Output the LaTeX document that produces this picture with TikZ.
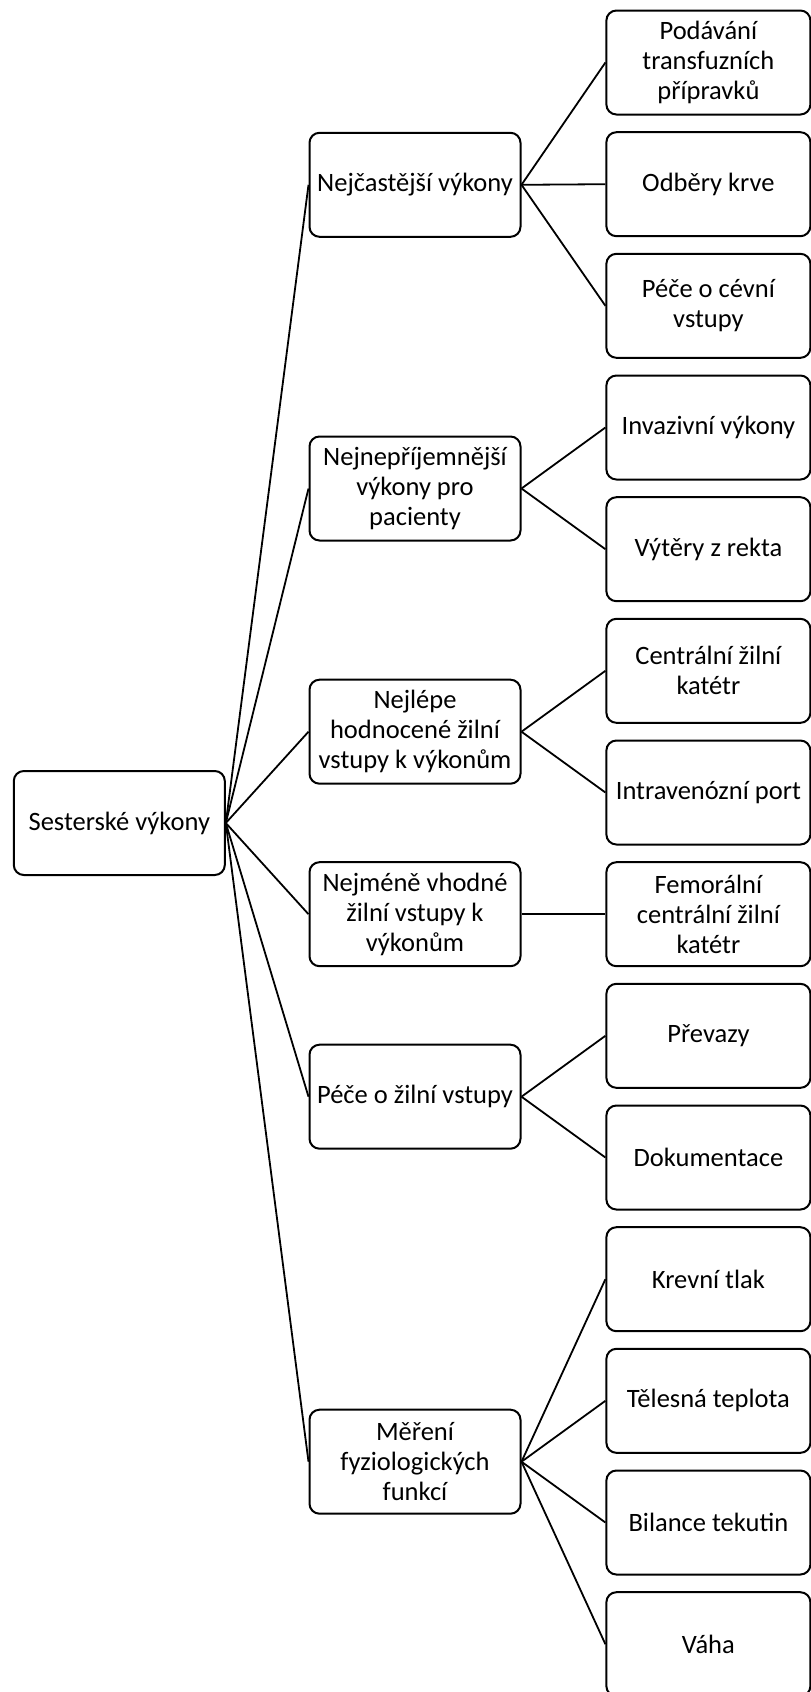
\documentclass[tikz,border=0pt]{standalone}
\usepackage{fontspec}
\setmainfont{Carlito}
\begin{document}
\begin{tikzpicture}[x=1pt,y=-1pt,
    box/.style={draw, line width=2pt, rounded corners=10pt, align=center,
      inner sep=0pt, minimum height=104pt, font=\fontsize{26.5}{30}\selectfont},
    mid/.style={box, minimum width=211pt},
    leaf/.style={box, minimum width=204pt}]
  \useasboundingbox (0,0) rectangle (811,1692);
  \draw
    (119.3,823) node[mid] (0){Sesterské výkony}
    (415,184.8) node[mid] (1){Nejčastější výkony}
    (415,488.5) node[mid] (2){Nejnepříjemnější\\výkony pro\\pacienty}
    (415,731.7) node[mid] (3){Nejlépe\\hodnocené žilní\\vstupy k výkonům}
    (415,914.2) node[mid] (4){Nejméně vhodné\\žilní vstupy k\\výkonům}
    (415,1096.7) node[mid] (5){Péče o žilní vstupy}
    (415,1461.7) node[mid] (6){Měření\\fyziologických\\funkcí};
  \draw
    (708.4,62.5) node[leaf] (1a){Podávání\\transfuzních\\přípravků}
    (708.4,184.2) node[leaf] (1b){Odběry krve}
    (708.4,305.8) node[leaf] (1c){Péče o cévní\\vstupy}
    (708.4,427.5) node[leaf] (2a){Invazivní výkony}
    (708.4,549.2) node[leaf] (2b){Výtěry z rekta}
    (708.4,670.8) node[leaf] (3a){Centrální žilní\\katétr}
    (708.4,792.5) node[leaf] (3b){Intravenózní port}
    (708.4,914.2) node[leaf] (4a){Femorální\\centrální žilní\\katétr}
    (708.4,1035.8) node[leaf] (5a){Převazy}
    (708.4,1157.5) node[leaf] (5b){Dokumentace}
    (708.4,1279.2) node[leaf] (6a){Krevní tlak}
    (708.4,1400.8) node[leaf] (6b){Tělesná teplota}
    (708.4,1522.5) node[leaf] (6c){Bilance tekutin}
    (708.4,1644.2) node[leaf] (6d){Váha};
  \begin{scope}[line width=1.8pt]
    \draw (0.east) to (1.west);
    \draw (0.east) to (2.west);
    \draw (0.east) to (3.west);
    \draw (0.east) to (4.west);
    \draw (0.east) to (5.west);
    \draw (0.east) to (6.west);
    \draw (1.east) to (1a.west);
    \draw (1.east) to (1b.west);
    \draw (1.east) to (1c.west);
    \draw (2.east) to (2a.west);
    \draw (2.east) to (2b.west);
    \draw (3.east) to (3a.west);
    \draw (3.east) to (3b.west);
    \draw (4.east) to (4a.west);
    \draw (5.east) to (5a.west);
    \draw (5.east) to (5b.west);
    \draw (6.east) to (6a.west);
    \draw (6.east) to (6b.west);
    \draw (6.east) to (6c.west);
    \draw (6.east) to (6d.west);
  \end{scope}
\end{tikzpicture}
\end{document}
